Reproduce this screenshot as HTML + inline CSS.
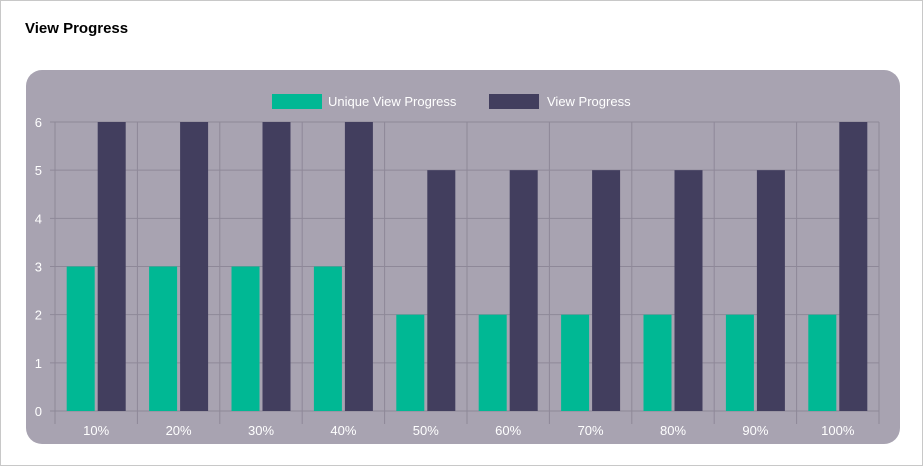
<!DOCTYPE html>
<html><head><meta charset="utf-8"><style>
body{margin:0;width:923px;height:466px;background:#fff;font-family:"Liberation Sans",sans-serif;overflow:hidden}
.frame{position:absolute;left:0;top:0;width:921px;height:464px;border:1px solid #c8c8c8}
h1{position:absolute;left:25px;top:20px;margin:0;font-size:15px;font-weight:bold;color:#000}
.panel{position:absolute;left:26px;top:70px;width:874px;height:374px;background:#a8a3b1;border-radius:16px}
svg{position:absolute;left:0;top:0}
</style></head><body>
<div class="frame"></div>
<h1>View Progress</h1>
<div class="panel"></div>
<svg id="chart" width="923" height="466"></svg>
<script>
const categories=["10%","20%","30%","40%","50%","60%","70%","80%","90%","100%"];
const uniqueViews=[3,3,3,3,2,2,2,2,2,2];
const views=[6,6,6,6,5,5,5,5,5,6];
const yTicks=[0,1,2,3,4,5,6];
const svg=document.getElementById('chart');
const NS='http://www.w3.org/2000/svg';
const X0=55,X1=879,Y0=411,Y1=122,YMAX=6;
const cw=(X1-X0)/categories.length;
const y=v=>Y0-(v/YMAX)*(Y0-Y1);
const xc=i=>X0+cw*(i+0.5);
function mk(t,a){const e=document.createElementNS(NS,t);for(const k in a)e.setAttribute(k,a[k]);svg.appendChild(e);return e;}
const grid='#8e8898';
yTicks.forEach(v=>{
 const l=mk('line',{x1:X0-5,x2:X1,y1:y(v),y2:y(v),stroke:grid,'stroke-width':1});
 
 
 const t=mk('text',{x:42,y:y(v)+5,'text-anchor':'end',fill:'#fff','font-size':13});
 t.textContent=v;
 
 
});
for(let i=0;i<=categories.length;i++){
 const l=mk('line',{x1:X0+cw*i,x2:X0+cw*i,y1:Y1,y2:Y0+13,stroke:grid,'stroke-width':1});
 
 
}
const bw=28;
categories.forEach((c,i)=>{
 const cx=xc(i);
 const g=mk('rect',{x:cx-bw-1.5,y:y(uniqueViews[i]),width:bw,height:Y0-y(uniqueViews[i]),fill:'#00b894'});
 
 
 const d=mk('rect',{x:cx+1.5,y:y(views[i]),width:bw,height:Y0-y(views[i]),fill:'#423e5e'});
 
 
 const t=mk('text',{x:cx,y:435,'text-anchor':'middle',fill:'#fff','font-size':13});
 t.textContent=c;
 
 
});
const lg=[[272,'#00b894','Unique View Progress',328],[489,'#423e5e','View Progress',547]];
lg.forEach(([x,col,txt,tx])=>{
 const r=mk('rect',{x:x,y:94,width:50,height:15,fill:col});
 
 
 const t=mk('text',{x:tx,y:106,fill:'#fff','font-size':13});
 t.textContent=txt;
 
 
});
</script>
</body></html>
